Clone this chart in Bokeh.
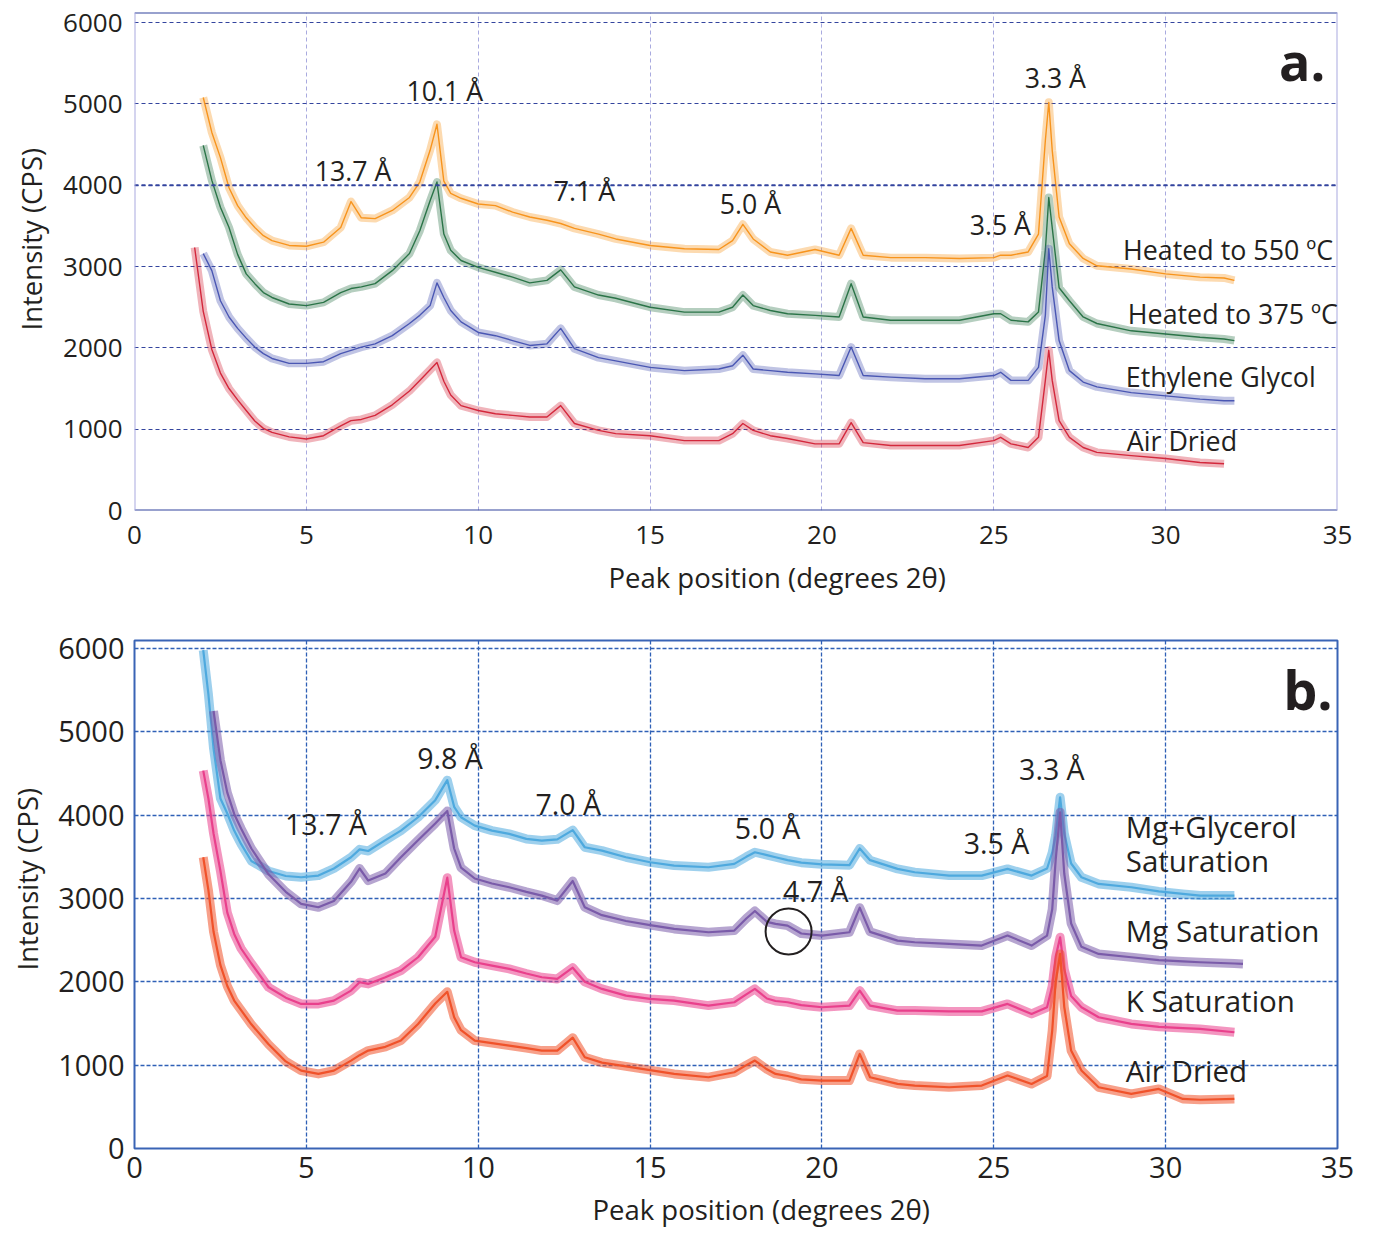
import numpy as np
from bokeh.plotting import figure
from bokeh.models import Range1d, FixedTicker, Label, Span, Title
from bokeh.layouts import column
from bokeh.embed import file_html
from bokeh.resources import INLINE

# ---------------------------------------------------------------- data
# Panel a: XRD traces of the clay fraction (intensity in counts per second)
two_theta_a = [1.75, 2.0, 2.25, 2.5, 2.75, 3.0, 3.25, 3.5, 3.75, 4.0,
               4.5, 5.0, 5.5, 6.0, 6.3, 6.6, 7.0, 7.5, 8.0, 8.3,
               8.6, 8.8, 9.0, 9.2, 9.5, 10.0, 10.5, 11.0, 11.5, 12.0,
               12.4, 12.8, 13.5, 14.0, 15.0, 16.0, 17.0, 17.4, 17.7, 18.0,
               18.5, 19.0, 19.8, 20.5, 20.85, 21.2, 22.0, 23.0, 24.0, 25.0,
               25.2, 25.5, 26.0, 26.3, 26.5, 26.6, 26.7, 26.9, 27.2, 27.6,
               28.0, 29.0, 30.0, 31.0, 31.7, 32.0]

heated_550 = [None, 5080, 4650, 4340, 3970, 3750, 3600, 3480, 3380, 3320,
              3260, 3250, 3300, 3480, 3800, 3600, 3590, 3690, 3850, 4040,
              4430, 4750, 4050, 3900, 3840, 3770, 3750, 3670, 3610, 3570,
              3530, 3470, 3400, 3340, 3260, 3220, 3210, 3320, 3520, 3340,
              3180, 3140, 3210, 3140, 3470, 3140, 3110, 3110, 3100, 3110,
              3140, 3140, 3180, 3400, 4550, 5020, 4430, 3610, 3280, 3100,
              3010, 2970, 2910, 2870, 2860, 2830]

heated_375 = [None, 4490, 4060, 3730, 3480, 3150, 2910, 2790, 2680, 2620,
              2540, 2520, 2560, 2680, 2730, 2750, 2790, 2950, 3160, 3440,
              3810, 4040, 3400, 3200, 3075, 2990, 2930, 2870, 2800, 2830,
              2960, 2750, 2650, 2610, 2500, 2440, 2440, 2500, 2650, 2520,
              2460, 2420, 2400, 2380, 2790, 2380, 2340, 2340, 2340, 2420,
              2420, 2340, 2320, 2440, 3200, 3850, 3480, 2740, 2580, 2380,
              2300, 2210, 2170, 2130, 2110, 2090]

ethylene_glycol = [None, 3160, 2950, 2580, 2380, 2240, 2120, 2010, 1930, 1870,
                   1810, 1810, 1830, 1930, 1970, 2010, 2050, 2150, 2300, 2400,
                   2520, 2800, 2620, 2460, 2320, 2190, 2150, 2090, 2030, 2050,
                   2240, 1990, 1880, 1840, 1760, 1720, 1740, 1780, 1910, 1740,
                   1720, 1700, 1680, 1660, 2010, 1660, 1640, 1620, 1620, 1660,
                   1700, 1600, 1600, 1760, 2400, 3220, 2750, 2090, 1720, 1580,
                   1520, 1450, 1410, 1370, 1350, 1350]

air_dried_a = [3235, 2450, 1980, 1690, 1500, 1360, 1230, 1100, 1010, 960,
               905, 880, 920, 1040, 1105, 1120, 1170, 1300, 1470, 1600,
               1730, 1820, 1590, 1420, 1290, 1230, 1190, 1170, 1150, 1150,
               1290, 1070, 985, 945, 920, 860, 860, 945, 1070, 985,
               920, 885, 820, 820, 1080, 835, 800, 800, 800, 860,
               900, 820, 775, 900, 1600, 1970, 1600, 1105, 900, 775,
               715, 675, 640, 590, 575, None]

# Panel b: cation-saturation treatments
two_theta_b = [2.0, 2.15, 2.3, 2.5, 2.7, 2.9, 3.1, 3.4, 3.9, 4.4,
               4.85, 5.35, 5.8, 6.3, 6.55, 6.8, 7.3, 7.75, 8.25, 8.75,
               9.1, 9.3, 9.5, 9.9, 10.4, 10.9, 11.4, 11.85, 12.3, 12.75,
               13.1, 13.6, 14.3, 15.0, 15.7, 16.7, 17.45, 17.8, 18.05, 18.4,
               18.65, 19.0, 19.4, 20.0, 20.8, 21.1, 21.4, 22.2, 22.7, 23.7,
               24.65, 25.4, 26.1, 26.55, 26.7, 26.8, 26.93, 27.05, 27.25, 27.55,
               28.05, 29.0, 29.8, 30.5, 31.0, 32.0, 32.25]

mg_glycerol = [5980, 5450, 4800, 4200, 4020, 3815, 3655, 3450, 3330, 3270,
               3255, 3275, 3360, 3495, 3590, 3570, 3700, 3815, 3975, 4180,
               4420, 4100, 3975, 3875, 3815, 3775, 3715, 3695, 3710, 3820,
               3615, 3575, 3495, 3435, 3395, 3375, 3415, 3500, 3555, 3520,
               3495, 3460, 3430, 3410, 3400, 3600, 3460, 3355, 3315, 3275,
               3275, 3355, 3275, 3360, 3550, 3760, 4215, 3780, 3420, 3255,
               3175, 3135, 3085, 3055, 3035, 3035, None]

mg_saturation = [None, None, 5250, 4660, 4270, 4015, 3840, 3600, 3290, 3080,
                 2935, 2895, 2970, 3200, 3360, 3215, 3300, 3495, 3700, 3900,
                 4050, 3600, 3370, 3240, 3180, 3135, 3080, 3035, 2975, 3210,
                 2895, 2800, 2730, 2680, 2635, 2595, 2615, 2760, 2850, 2720,
                 2695, 2675, 2580, 2555, 2595, 2890, 2600, 2495, 2475, 2455,
                 2435, 2555, 2435, 2555, 2870, 3460, 4035, 3300, 2700, 2420,
                 2335, 2295, 2260, 2245, 2235, 2220, 2215]

k_saturation = [4535, 4200, 3780, 3330, 2830, 2575, 2400, 2220, 1935, 1810,
                1735, 1735, 1775, 1895, 1995, 1975, 2055, 2135, 2295, 2540,
                3250, 2615, 2295, 2235, 2195, 2155, 2100, 2055, 2035, 2170,
                2000, 1915, 1835, 1795, 1775, 1715, 1755, 1850, 1915, 1800,
                1770, 1755, 1720, 1695, 1715, 1895, 1715, 1655, 1655, 1645,
                1645, 1735, 1615, 1695, 1950, 2300, 2535, 2150, 1830, 1695,
                1575, 1495, 1460, 1445, 1435, 1395, None]

air_dried_b = [3495, 3100, 2600, 2200, 1950, 1775, 1660, 1490, 1250, 1045,
               935, 895, 935, 1055, 1120, 1175, 1220, 1295, 1495, 1740,
               1880, 1575, 1420, 1295, 1265, 1235, 1205, 1175, 1175, 1330,
               1095, 1030, 985, 940, 895, 855, 915, 1000, 1055, 950,
               895, 870, 830, 815, 815, 1135, 855, 775, 755, 735,
               755, 875, 775, 870, 1415, 2000, 2335, 1700, 1175, 935,
               735, 655, 715, 595, 585, 595, None]

x_ticks = [0, 5, 10, 15, 20, 25, 30, 35]
y_ticks = [0, 1000, 2000, 3000, 4000, 5000, 6000]

# d-spacing annotations: (text, 2-theta, intensity)
peaks_a = [("13.7 Å", 6.36, 4180), ("10.1 Å", 9.03, 5170), ("7.1 Å", 13.09, 3940),
           ("5.0 Å", 17.92, 3780), ("3.3 Å", 26.79, 5330), ("3.5 Å", 25.19, 3520)]
peaks_b = [("13.7 Å", 5.57, 3900), ("9.8 Å", 9.18, 4690), ("7.0 Å", 12.62, 4130),
           ("5.0 Å", 18.42, 3850), ("4.7 Å", 19.82, 3085), ("3.3 Å", 26.69, 4560),
           ("3.5 Å", 25.08, 3670)]
names_a = [("Heated to 550 ºC", 28.76, 3210), ("Heated to 375 ºC", 28.90, 2425),
           ("Ethylene Glycol", 28.84, 1650), ("Air Dried", 28.87, 860)]
names_b = [("Mg+Glycerol", 28.84, 3865), ("Saturation", 28.84, 3455),
           ("Mg Saturation", 28.84, 2615), ("K Saturation", 28.84, 1775),
           ("Air Dried", 28.84, 935)]
ring_b = (19.03, 2604)

FONT = "Open Sans"
INK = "#231f20"
X_TITLE = "Peak position (degrees 2θ)"
Y_TITLE = "Intensity (CPS)"


def arr(vals):
    return np.array([np.nan if v is None else v for v in vals], dtype=float)


def base_figure(height, y_top, borders, tick_size):
    left, right, top, bottom = borders
    p = figure(width=1377, height=height, x_range=Range1d(0, 35),
               y_range=Range1d(0, y_top), title=None,
               toolbar_location=None, output_backend="svg",
               min_border_left=left, min_border_right=right,
               min_border_top=top, min_border_bottom=bottom)
    p.xaxis.ticker = FixedTicker(ticks=x_ticks)
    p.yaxis.ticker = FixedTicker(ticks=y_ticks)
    for ax in (p.xaxis[0], p.yaxis[0]):
        ax.axis_line_color = None
        ax.major_tick_line_color = None
        ax.minor_tick_line_color = None
        ax.major_tick_out = 0
        ax.major_tick_in = 0
        ax.major_label_text_font = FONT
        ax.major_label_text_font_size = tick_size
        ax.major_label_text_color = INK
    p.background_fill_color = "white"
    p.border_fill_color = "white"
    return p


def axis_titles(p, x_offset, y_offset, x_standoff, y_standoff):
    # axis titles placed as panel titles so they can be offset along the frame
    p.add_layout(Title(text=X_TITLE, align="left", offset=x_offset,
                       standoff=x_standoff, text_font=FONT,
                       text_font_size="27.5px", text_font_style="normal",
                       text_color=INK), "below")
    p.add_layout(Title(text=Y_TITLE, align="left", offset=y_offset,
                       standoff=y_standoff, vertical_align="top",
                       text_font=FONT, text_font_size="27.5px",
                       text_font_style="normal", text_color=INK), "left")


def trace(p, x, y, color, band_w, band_alpha, core_w):
    xs, ys = arr(x), arr(y)
    p.line(xs, ys, line_color=color, line_width=band_w, line_alpha=band_alpha,
           line_join="round")
    p.line(xs, ys, line_color=color, line_width=core_w, line_join="round")


def add_text(p, text, x, y, size, align="center", bold=False):
    p.add_layout(Label(x=x, y=y, text=text, text_font=FONT,
                       text_font_size=size, text_color=INK,
                       text_align=align, text_baseline="middle",
                       text_font_style="bold" if bold else "normal"))


# ---------------------------------------------------------------- panel a
NAVY = "#33449e"
LAVENDER = "#a9aadf"
pa = base_figure(620, 6125, (133, 36, 12, 110), "26px")
pa.xaxis.major_label_standoff = 15
pa.yaxis.major_label_standoff = 12
pa.outline_line_color = None
pa.ygrid.grid_line_color = NAVY
pa.ygrid.grid_line_dash = "4 3"
pa.ygrid.grid_line_width = 1
pa.xgrid.grid_line_color = LAVENDER
pa.xgrid.grid_line_dash = "4 3"
pa.xgrid.grid_line_width = 1
pa.add_layout(Span(location=4000, dimension="width", line_color=NAVY,
                   line_width=2, line_dash="4 3"))
pa.add_layout(Span(location=6125, dimension="width", line_color=NAVY, line_width=2))
pa.add_layout(Span(location=0, dimension="width", line_color=NAVY, line_width=2))
pa.add_layout(Span(location=0, dimension="height", line_color=LAVENDER, line_width=2))
pa.add_layout(Span(location=35, dimension="height", line_color=LAVENDER, line_width=2))

trace(pa, two_theta_a, heated_550, "#f7941d", 8, 0.35, 1.4)
trace(pa, two_theta_a, heated_375, "#2b7448", 8, 0.35, 1.4)
trace(pa, two_theta_a, ethylene_glycol, "#4a57b3", 8, 0.35, 1.4)
trace(pa, two_theta_a, air_dried_a, "#d3283c", 8, 0.35, 1.4)

for t, x, y in peaks_a:
    add_text(pa, t, x, y, "26.7px")
for t, x, y in names_a:
    add_text(pa, t, x, y, "26.8px", align="left")
add_text(pa, "a.", 33.97, 5535, "52px", bold=True)
axis_titles(pa, 474, 180, 21, 18)

# ---------------------------------------------------------------- panel b
BLUE = "#2f60b6"
pb = base_figure(616, 6096, (134, 40, 20, 88), "29px")
pb.xaxis.major_label_standoff = 8
pb.yaxis.major_label_standoff = 10
pb.outline_line_color = "#3a64b5"
pb.outline_line_width = 2
for g in (pb.xgrid[0], pb.ygrid[0]):
    g.grid_line_color = BLUE
    g.grid_line_dash = "4 2"
    g.grid_line_width = 1.3

trace(pb, two_theta_b, mg_glycerol, "#4ea9de", 9, 0.55, 2.2)
trace(pb, two_theta_b, mg_saturation, "#7a5ba9", 9, 0.55, 2.2)
trace(pb, two_theta_b, k_saturation, "#e9408c", 9, 0.55, 2.2)
trace(pb, two_theta_b, air_dried_b, "#f0522a", 9, 0.55, 2.2)

pb.scatter([ring_b[0]], [ring_b[1]], marker="circle", size=46,
           fill_color=None, line_color=INK, line_width=2)

for t, x, y in peaks_b:
    add_text(pb, t, x, y, "28.5px")
for t, x, y in names_b:
    add_text(pb, t, x, y, "29.5px", align="left")
add_text(pb, "b.", 34.14, 5520, "54px", bold=True)
axis_titles(pb, 458, 178, 16, 15)

layout = column(pa, pb, spacing=0)
open("out.html", "w").write(file_html(layout, INLINE))
